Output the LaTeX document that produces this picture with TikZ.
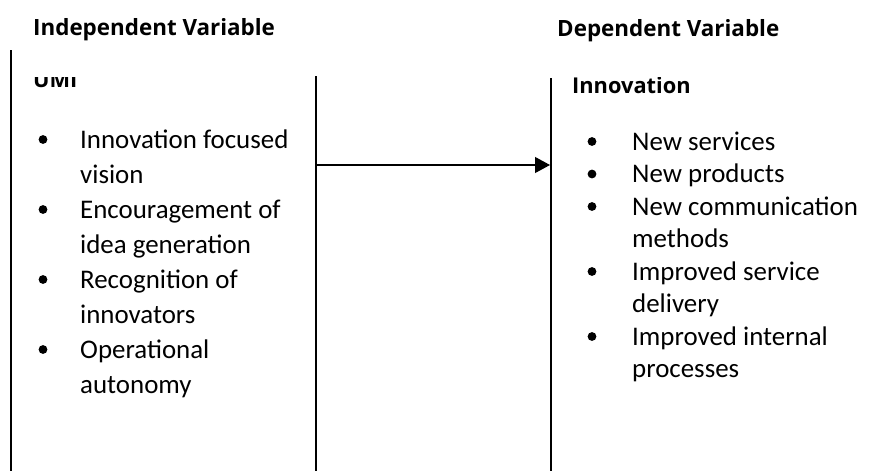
\documentclass[tikz,border=0pt]{standalone}
\usepackage{fontspec}
\setmainfont{Carlito}
\newfontfamily\headfont{Open Sans}
\usetikzlibrary{arrows.meta}

\tikzset{
  head/.style={anchor=base west,inner sep=0pt,font=\headfont\bfseries\fontsize{22.4}{26}\selectfont},
  boxtitle/.style={anchor=base west,inner sep=0pt,font=\headfont\bfseries\fontsize{21.8}{26}\selectfont},
  item/.style={anchor=base west,inner sep=0pt,font=\fontsize{26.9}{30}\selectfont},
  frame/.style={line width=1.3pt},
}

\begin{document}
\begin{tikzpicture}[x=1pt,y=-1pt,color=black]
\useasboundingbox (0,0) rectangle (885,471);

\node (indep) at (33,35)[head]{Independent Variable};
\node (dep) at (557,36.5)[head]{Dependent Variable};

% edges of the two boxes
\coordinate (lt) at (11,50);   \coordinate (lb) at (11,471);
\coordinate (mt) at (316,76);  \coordinate (mb) at (316,471);
\coordinate (rt) at (551,78);  \coordinate (rb) at (551,471);
\draw[frame] (lt) -- (lb);
\draw[frame] (mt) -- (mb);
\draw[frame,line width=2pt] (rt) -- (rb);

% box titles, cut off at the top
\begin{scope}
\clip (0,77) rectangle (885,471);
\node (umi) at (33,87.5)[boxtitle]{UMI};
\node (innov) at (572,93)[boxtitle]{Innovation};
\end{scope}

% left list
\foreach \y/\t [count=\i] in {148/Innovation focused,183/vision,218/Encouragement of,253/idea generation,
                             288/Recognition of,323/innovators,358/Operational,393/autonomy}
{
\node (a\i) at (80,\y)[item]{\t};
}
\foreach \i in {1,3,5,7}
{
\fill ([yshift=8.5pt]a\i.base west) ++(-37,0) circle (4.4pt);
}

% right list
\foreach \y/\t [count=\i] in {150/New services,182.5/New products,215/New communication,247.5/methods,
                             280/Improved service,312.5/delivery,345/Improved internal,377.5/processes}
{
\node (b\i) at (632,\y)[item]{\t};
}
\foreach \i in {1,2,3,5,7}
{
\fill ([yshift=8.5pt]b\i.base west) ++(-40,0) circle (4.4pt);
}

\coordinate (from) at (316,165);
\coordinate (to) at (550,165);
\draw[line width=1.1pt,-{Triangle[length=15pt,width=16pt]}] (from) -- (to);

\end{tikzpicture}
\end{document}
